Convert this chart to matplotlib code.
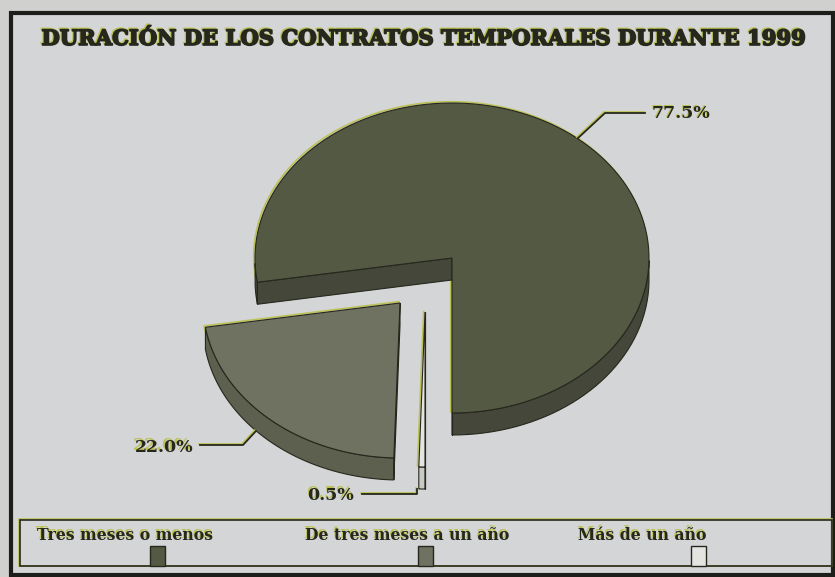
import numpy as np
import matplotlib.pyplot as plt
import matplotlib.patheffects as pe
from matplotlib.patches import Polygon, Rectangle

# data
title = "DURACIÓN DE LOS CONTRATOS TEMPORALES DURANTE 1999"
categories = ["Tres meses o menos", "De tres meses a un año", "Más de un año"]
percent = [77.5, 22.0, 0.5]
labels = ["77.5%", "22.0%", "0.5%"]

# look of the 3d pie (pixel units, y down)
cx, cy = 452, 258
RX, RY, DEPTH = 197, 155, 22
offsets = [(0, 0), (-52, 45), (-27, 54)]
top_col = ["#545943", "#6f7261", "#e4e5e1"]
side_col = ["#44473a", "#5d604f", "#c9cac4"]
dark = "#26271d"
yellow = "#bcc257"
bg = "#d4d5d6"

fig = plt.figure(figsize=(8.35, 5.77), dpi=100)
fig.patch.set_facecolor("#d0d1cf")
ax = fig.add_axes([0, 0, 1, 1])
ax.set_xlim(0, 835)
ax.set_ylim(577, 0)
ax.axis("off")

# frame
ax.add_patch(Rectangle((11, 13), 822, 562, facecolor=bg, edgecolor="#1d1d1a", lw=3.0, zorder=0))


def shadow_text(x, y, s, size, stroke=0.0, **kw):
  fx = [pe.withStroke(linewidth=stroke, foreground=yellow)] if stroke else None
  ax.text(x - 1.2, y - 1.2, s, fontsize=size, color=yellow, va="center", zorder=20,
          path_effects=fx, **kw)
  fx = [pe.withStroke(linewidth=stroke, foreground=dark)] if stroke else None
  ax.text(x, y, s, fontsize=size, color=dark, va="center", zorder=21,
          path_effects=fx, **kw)


shadow_text(424, 39, title, 15.2, stroke=1.2, ha="center", family="DejaVu Serif", weight="bold")


def rim(x0, y0, a0, a1, n=120):
  t = np.radians(np.linspace(a0, a1, n))
  return x0 + RX * np.cos(t), y0 - RY * np.sin(t), t


def poly(xs, ys, fc, z, lw=0.8, ec=dark):
  ax.add_patch(Polygon(np.column_stack([xs, ys]), closed=True, facecolor=fc,
                       edgecolor=ec, lw=lw, zorder=z, joinstyle="miter"))


start = -90.0
mids = []
for i, v in enumerate(percent):
  a0, a1 = start, start + v * 3.6
  start = a1
  mids.append((a0 + a1) / 2)
  x0, y0 = cx + offsets[i][0], cy + offsets[i][1]
  z = 2 + i * 3
  xs, ys, t = rim(x0, y0, a0, a1)

  # yellow misprint outline behind the slice
  poly(np.r_[x0, xs] - 1.3, np.r_[y0, ys] - 1.3, "none", z - 0.5, lw=1.2, ec=yellow)

  # outer side wall, only the part facing the viewer
  vis = np.sin(t) <= 1e-9
  idx = np.flatnonzero(vis)
  if len(idx):
    runs = np.split(idx, np.flatnonzero(np.diff(idx) > 1) + 1)
    for r in runs:
      sx, sy = xs[r], ys[r]
      poly(np.r_[sx, sx[::-1]], np.r_[sy, sy[::-1] + DEPTH], side_col[i], z)

  # flat cut faces
  for a, show in ((a1, np.cos(np.radians(a1)) < 0), (a0, np.cos(np.radians(a0)) > 0)):
    if show:
      ex = x0 + RX * np.cos(np.radians(a))
      ey = y0 - RY * np.sin(np.radians(a))
      poly([x0, ex, ex, x0], [y0, ey, ey + DEPTH, y0 + DEPTH], side_col[i], z)

  # top face
  poly(np.r_[x0, xs], np.r_[y0, ys], top_col[i], z + 1)

# value labels with leader lines
for i, lab in enumerate(labels):
  m = np.radians(mids[i])
  x0, y0 = cx + offsets[i][0], cy + offsets[i][1]
  ax0 = x0 + RX * np.cos(m)
  ay0 = y0 - RY * np.sin(m)
  if i == 0:
    pts = [(ax0 - 2, ay0 - 2), (605, 113), (645, 113)]
    tx, ha, ty = 652, "left", 114
  elif i == 1:
    pts = [(ax0 - 14, ay0 + 12), (243, 445), (200, 445)]
    tx, ha, ty = 193, "right", 447
  else:
    pts = [(ax0 - 5, ay0 + DEPTH), (ax0 - 5, 494), (362, 494)]
    tx, ha, ty = 354, "right", 495
  px, py = zip(*pts)
  ax.plot(np.array(px) - 1, np.array(py) - 1, color=yellow, lw=1.3, zorder=18)
  ax.plot(px, py, color=dark, lw=1.3, zorder=19)
  shadow_text(tx, ty, lab, 12.5, ha=ha, family="DejaVu Serif", weight="bold")

# legend box
ax.add_patch(Rectangle((19, 519), 813, 47, facecolor="none", edgecolor=yellow, lw=1.2, zorder=15))
ax.add_patch(Rectangle((20, 520), 812, 46, facecolor="none", edgecolor=dark, lw=1.2, zorder=16))
leg_x = [37, 305, 578]
for i, name in enumerate(categories):
  shadow_text(leg_x[i], 535, name, 11.3, ha="left", family="DejaVu Serif", weight="bold")
  ax.add_patch(Rectangle((leg_x[i] + 113, 546), 15, 20, facecolor=top_col[i],
                         edgecolor=dark, lw=1.0, zorder=17))

fig.savefig("out.png", dpi=100, facecolor=fig.get_facecolor())
